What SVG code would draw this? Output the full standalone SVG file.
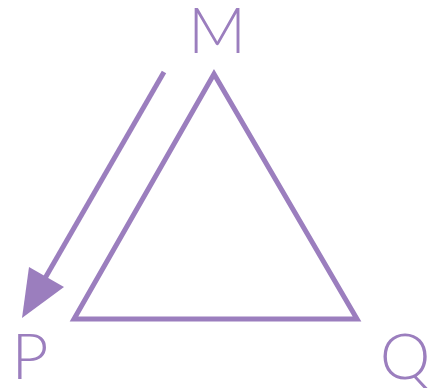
<svg xmlns="http://www.w3.org/2000/svg" width="433" height="388" viewBox="0 0 433 388">
<style>
.s{fill:none;stroke:#9b7ebe;stroke-width:5}
.t{font-family:Lato,"Noto Sans",sans-serif;font-size:64px;fill:#9b7ebe;font-weight:300}
</style>
<rect width="433" height="388" fill="#fff"/>
<g id="triangle"><polygon class="s" points="214,74 74,319 357,319" stroke-linejoin="miter"/></g>
<g id="connectors">
<line class="s" x1="164" y1="72" x2="44" y2="280"/>
<polygon points="22,318 29,267 64,287" fill="#9b7ebe"/>
</g>
<g id="M"><text class="t" x="217" y="53" text-anchor="middle">M</text></g>
<g id="P"><text class="t" x="30" y="379" text-anchor="middle">P</text></g>
<g id="Q"><text class="t" x="405" y="379" text-anchor="middle">Q</text></g>
</svg>
